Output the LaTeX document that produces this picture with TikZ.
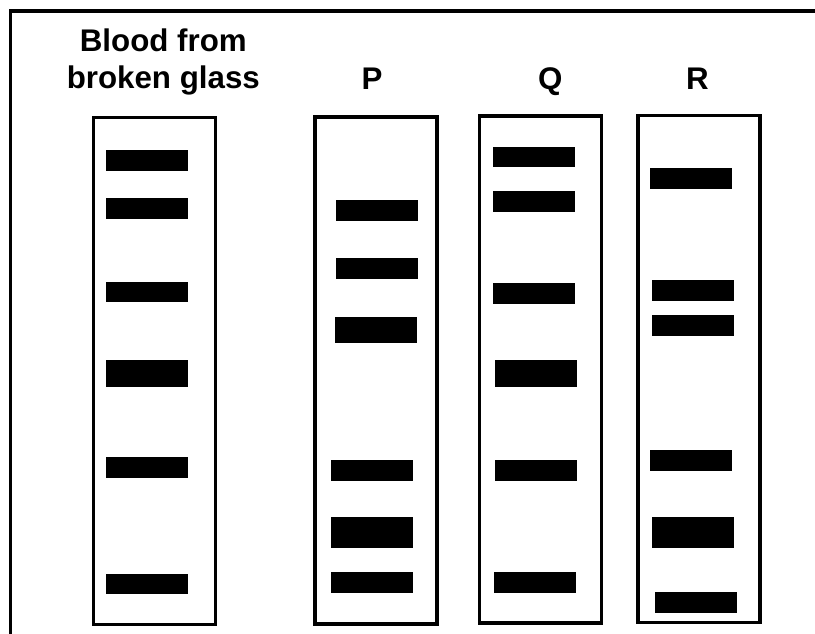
\documentclass[tikz,border=0pt]{standalone}
\usepackage{fontspec}
\setmainfont{Liberation Sans}
\tikzset{
    lane/.style={
        rectangle, draw=black, line width=3.5pt,
        minimum width=122pt, minimum height=507pt, inner sep=0pt,
    },
    band/.style={
        rectangle, fill=black, draw=none,
        minimum width=82pt, inner sep=0pt,
    },
    heading/.style={
        anchor=base, inner sep=0pt, text=black,
        font=\fontsize{31.3}{36.6}\selectfont\bfseries,
    },
}

\begin{document}
\begin{tikzpicture}[x=1pt, y=-1pt]
        \useasboundingbox (0,0) rectangle (815,634);

        % outer frame, cut off at the right and bottom
        \coordinate (framebl) at(10.5,634);
        \coordinate (frametl) at(10.5,11);
        \coordinate (frametr) at(815,11);
        \draw[line width=3.8pt] (framebl) -- (frametl) -- (frametr);

        \node (bloodlane) at(154.5,371.2) [lane] {};
        \node (plane) at(376.2,370.4) [lane] {};
        \node (qlane) at(540.3,369.5) [lane] {};
        \node (rlane) at(698.8,369) [lane] {};

        % base of a two-line node is its last line
        \node (bloodlabel) at(163.3,88.3) [heading, align=center] {Blood from\\broken glass};
        \node (plabel) at(372,89.3) [heading] {P};
        \node (qlabel) at(550.3,89.3) [heading] {Q};
        \node (rlabel) at(697.5,89.3) [heading] {R};

        % bands: x / y / height
        \foreach \x/\y/\h [count=\i] in {147/160.3/20.7, 147/208.7/20.7, 147/292/20.7,
                147/373.3/26.7, 147/467.2/21, 147/584.2/20.3}
            \node (blood\i) at(\x,\y) [band, minimum height=\h pt] {};
        \foreach \x/\y/\h [count=\i] in {377/210.3/20.7, 377/268.8/21, 375.5/330/26.7,
                372/470.5/21, 372/532.3/31.3, 372/582.3/20.7}
            \node (p\i) at(\x,\y) [band, minimum height=\h pt] {};
        \foreach \x/\y/\h [count=\i] in {534/157/20.7, 534/201.8/21, 534/293.8/21,
                536/373.3/26.7, 536/470.5/21, 535/582.3/20.7}
            \node (q\i) at(\x,\y) [band, minimum height=\h pt] {};
        \foreach \x/\y/\h [count=\i] in {691.3/178.7/20.7, 692.7/290.5/21, 692.7/325.5/21,
                691.3/460.7/20.7, 692.7/532.2/31, 696/602.3/20.7}
            \node (r\i) at(\x,\y) [band, minimum height=\h pt] {};
    \end{tikzpicture}
\end{document}
